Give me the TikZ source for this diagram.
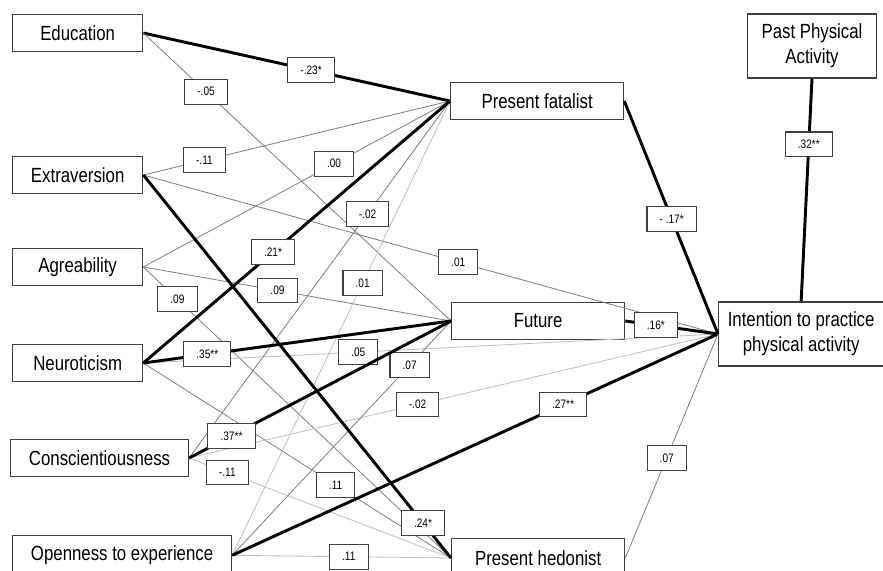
\documentclass[tikz,border=0pt]{standalone}
\usepackage{fontspec}
\setmainfont{Liberation Sans}[FakeStretch=0.82]

\begin{document}
\begin{tikzpicture}[x=0.03cm, y=-0.03cm,
    varbox/.style={draw=black!75, line width=1.1pt, fill=white, minimum height=1.13cm,
        minimum width=3.9cm, inner xsep=0.55cm, font=\fontsize{17.5}{21}\selectfont},
    midbox/.style={varbox, minimum width=5.19cm, minimum height=1.11cm},
    outbox/.style={varbox, align=center, minimum height=1.92cm, inner xsep=0.2cm},
    coef/.style={draw=black!75, line width=0.9pt, fill=white, minimum height=0.74cm,
        inner xsep=0.38cm, font=\fontsize{10.5}{12}\selectfont},
    sig/.style={draw=black, line width=2.5pt},
    ns/.style={draw=black!50, line width=0.7pt},
    nsl/.style={draw=black!25, line width=0.7pt}]
    \fill[white] (0,0) rectangle (883,571);
    \useasboundingbox (0,0) rectangle (883,571);

    % Personality and education
    \node[varbox, anchor=west] (edu) at (12,33) {Education};
    \node[varbox, anchor=west] (extra) at (12,175) {Extraversion};
    \node[varbox, anchor=west] (agree) at (12,267) {Agreability};
    \node[varbox, anchor=west] (neuro) at (12,363) {Neuroticism};
    \node[varbox, anchor=west] (consc) at (10,458) {Conscientiousness};
    \node[varbox, anchor=north west, minimum height=1.18cm] (open) at (12,535) {Openness to experience};

    % Time perspectives
    \node[midbox, anchor=west] (pf) at (450,101) {Present fatalist};
    \node[midbox, anchor=west] (fut) at (451,321) {Future};
    \node[midbox, anchor=north west, minimum height=1.16cm] (ph) at (451,538) {Present hedonist};

    % Outcome
    \node[outbox, minimum width=3.87cm] (ppa) at (812,46) {Past Physical\\Activity};
    \node[outbox, minimum width=4.95cm, anchor=west] (int) at (718,334) {Intention to practice\\physical activity};

    % Paths
    \path
    (edu.east)
    edge [sig] node [coef, pos=.547] {-.23*} (pf.west)
    edge [ns] node [coef, pos=.204] {-.05} (fut.west)

    (extra.east)
    edge [ns] node [coef, pos=.199] {-.11} (pf.west)
    edge [ns] node [coef, pos=.548] {.01} (int.west)

    (agree.east)
    edge [ns] node [coef, pos=.622] {.00} (pf.west)
    edge [ns] node [coef, pos=.436] {.09} (fut.west)
    edge [ns] node [coef, pos=.111] {.09} (ph.west)

    (neuro.east)
    edge [ns] node [coef, pos=.625] {.11} (ph.west)
    edge [nsl] node [coef, pos=.374] {.05} (int.west)

    (consc.east)
    edge [ns] node [coef, pos=.684] {-.02} (pf.west)
    edge [nsl] node [coef, pos=.146] {-.11} (ph.west)
    edge [nsl] node [coef, pos=.432] {-.02} (int.west)

    (open.east)
    edge [nsl] node [coef, pos=.599] {.01} (pf.west)
    edge [ns] node [coef, pos=.811] {.07} (fut.west)
    edge [nsl] node [coef, pos=.533] {.11} (ph.west)
    ;

    \path
    (extra.east)
    edge [sig] node [coef, pos=.909] {.24*} (ph.west)

    (neuro.east)
    edge [sig] node [coef, pos=.423] {.21*} (pf.west)
    edge [sig] node [coef, pos=.208] {.35**} (fut.west)

    (consc.east)
    edge [sig] node [coef, pos=.162] {.37**} (fut.west)

    (open.east)
    edge [sig] node [coef, pos=.681] {.27**} (int.west)

    (pf.east)
    edge [sig] node [coef, pos=.506] {- .17*} (int.west)

    (fut.east)
    edge [sig] node [coef, pos=.33] {.16*} (int.west)

    (ph.east)
    edge [ns] node [coef, pos=.447] {.07} (int.west)

    (ppa.south)
    edge [sig] node [coef, pos=.295] {.32**} (int.north)
    ;
\end{tikzpicture}
\end{document}
